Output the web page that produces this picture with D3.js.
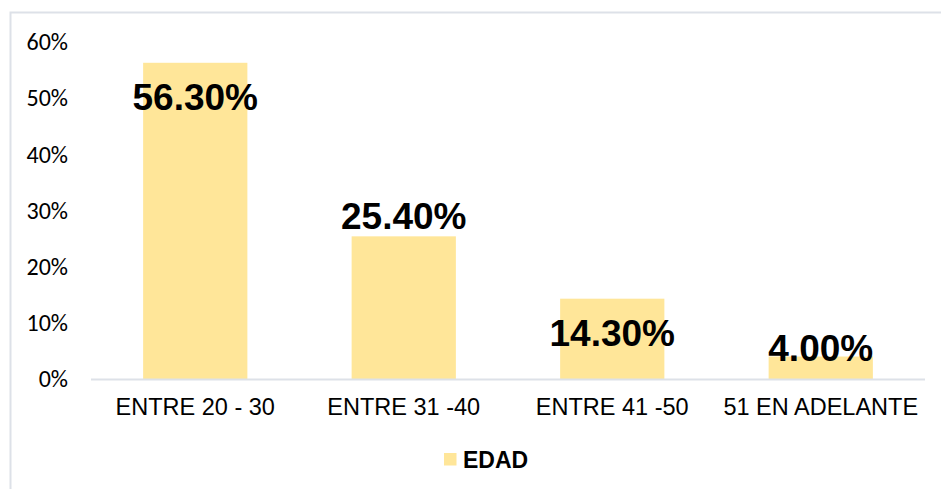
<!DOCTYPE html>
<html>
<head>
<meta charset="utf-8">
<script src="https://cdn.jsdelivr.net/npm/d3@7"></script>
<style>
  body { margin: 0; background: #fff; }
  svg { display: block; font-family: "Liberation Sans", Arial, sans-serif; }
</style>
</head>
<body>
<div id="chart"></div>
<script>
// data
var categories = ["ENTRE 20 - 30", "ENTRE 31 -40", "ENTRE 41 -50", "51 EN ADELANTE"];
var values = [56.3, 25.4, 14.3, 4.0];
var yTicks = [0, 10, 20, 30, 40, 50, 60];
var seriesName = "EDAD";

// label nudges (baseline offset from bar top, px) as placed in the original
var labelDy = [47, -7, 47, 4.5];

var width = 941, height = 489;
var margin = { top: 42, right: 16, bottom: 110, left: 91 };
var barColor = "#ffe699";

var svg = d3.select("#chart").append("svg")
    .attr("width", width)
    .attr("height", height);

// chart area border
svg.append("rect")
    .attr("x", 10.5)
    .attr("y", 12.5)
    .attr("width", width)
    .attr("height", height)
    .attr("fill", "none")
    .attr("stroke", "#dde1e8")
    .attr("stroke-width", 2);

var x = d3.scaleBand()
    .domain(categories)
    .range([margin.left, width - margin.right])
    .paddingInner(0.5)
    .paddingOuter(0.25);

var y = d3.scaleLinear()
    .domain([0, 60])
    .range([379, 42]);

// y axis labels
var yAxis = svg.append("g")
    .attr("transform", "translate(68,0)")
    .call(d3.axisLeft(y).tickValues(yTicks).tickSize(0).tickPadding(0)
        .tickFormat(function (d) { return d + "%"; }));
yAxis.select(".domain").remove();
yAxis.selectAll("text")
    .style("font-family", "Carlito, 'Liberation Sans', Arial, sans-serif")
    .style("font-size", "24px")
    .attr("fill", "#000");

// bars
svg.selectAll(".bar")
    .data(values)
    .enter().append("rect")
    .attr("class", "bar")
    .attr("x", function (d, i) { return x(categories[i]); })
    .attr("width", x.bandwidth())
    .attr("y", function (d) { return y(d); })
    .attr("height", function (d) { return y(0) - y(d); })
    .attr("fill", barColor);

// baseline
svg.append("line")
    .attr("x1", margin.left)
    .attr("x2", width - margin.right)
    .attr("y1", y(0) + 0.5)
    .attr("y2", y(0) + 0.5)
    .attr("stroke", "#dde1e8")
    .attr("stroke-width", 2);

// x axis labels
var xAxis = svg.append("g")
    .attr("transform", "translate(0," + y(0) + ")")
    .call(d3.axisBottom(x).tickSize(0).tickPadding(19));
xAxis.select(".domain").remove();
xAxis.selectAll("text")
    .style("font-family", "'Liberation Sans', Arial, sans-serif")
    .style("font-size", "23.5px")
    .attr("fill", "#000");

// value labels
svg.selectAll(".val")
    .data(values)
    .enter().append("text")
    .attr("class", "val")
    .attr("x", function (d, i) { return x(categories[i]) + x.bandwidth() / 2; })
    .attr("y", function (d, i) { return y(d) + labelDy[i]; })
    .attr("text-anchor", "middle")
    .style("font-size", "37px")
    .style("font-weight", "bold")
    .text(function (d) { return d.toFixed(2) + "%"; });

// legend
var legend = svg.append("g").attr("transform", "translate(444,453)");
legend.append("rect")
    .attr("width", 12.5)
    .attr("height", 12.5)
    .attr("fill", barColor);
legend.append("text")
    .attr("x", 19)
    .attr("y", 14.5)
    .style("font-size", "23px")
    .style("font-weight", "bold")
    .text(seriesName);
</script>
</body>
</html>
